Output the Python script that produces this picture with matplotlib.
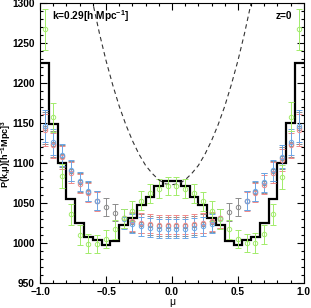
import matplotlib
matplotlib.use("Agg")
import matplotlib.pyplot as plt
import numpy as np
from matplotlib.ticker import MultipleLocator

nan = np.nan

# 30 mu-bins on [-1, 1]
mu_edges = np.linspace(-1.0, 1.0, 31)

# black histogram (simulation measurement)
hist_vals = [1225, 1149, 1100, 1055, 1025, 1008, 1004, 997, 1003, 1022,
             1031, 1047, 1057, 1071, 1078, 1078, 1071, 1057, 1047, 1031,
             1022, 1003, 997, 1004, 1008, 1025, 1055, 1100, 1150, 1225]

# coloured points with error bars
gray_vals = [1144, 1124, 1109, 1090, 1076, 1064, 1053, 1045, 1038, 1031,
             1026, 1024, 1022, 1021, 1021, 1021, 1021, 1022, 1024, 1026,
             1031, 1039, 1045, 1053, 1064, 1075, 1090, 1106, 1124, 1144]
red_vals = [1141, 1122, 1107, 1088, 1074, 1063, 1052, nan, nan, 1031,
            1027, 1025, 1024, 1023, 1023, 1023, 1023, 1024, 1025, 1027,
            1031, nan, nan, 1052, 1063, 1073, 1088, 1104, 1122, 1141]
blue_vals = [1146, 1126, 1110, 1091, 1077, 1065, 1053, nan, nan, 1030,
             1024, 1021, 1019, 1018, 1018, 1018, 1018, 1019, 1021, 1024,
             1030, nan, nan, 1053, 1065, 1076, 1091, 1108, 1126, 1146]
rb_err = [20, 16, 14, 13, 12, 12, 12, 11, 11, 12,
          12, 12, 12, 12, 12, 12, 12, 12, 12, 12,
          12, 11, 11, 12, 12, 12, 13, 14, 16, 20]

green_vals = [1267, 1157, 1084, 1036, 1010, 999, 999, 1005, 1017, 1031,
              1040, 1053, 1062, 1068, 1071, 1071, 1068, 1062, 1052, 1040,
              1030, 1017, 1005, 1000, 1000, 1011, 1036, 1083, 1158, 1267]
green_err = [26, 18, 15, 13, 12, 12, 11, 11, 12, 12,
             12, 12, 12, 12, 11, 11, 12, 12, 12, 12,
             12, 12, 11, 11, 12, 12, 13, 15, 18, 26]

# dashed theory curve
curve_mu = [-0.62, -0.6, -0.55, -0.5, -0.45, -0.4, -0.35, -0.3, -0.25, -0.2,
            -0.15, -0.1, -0.05, 0.0, 0.05, 0.1, 0.15, 0.2, 0.25, 0.3,
            0.35, 0.4, 0.45, 0.5, 0.55, 0.6, 0.62]
curve_p = [1315, 1300, 1262, 1228, 1198, 1171, 1148, 1128, 1111, 1097,
           1087, 1079, 1074, 1073, 1074, 1079, 1087, 1097, 1111, 1128,
           1148, 1171, 1198, 1228, 1262, 1300, 1315]

plt.rcParams["font.family"] = ["Liberation Sans", "DejaVu Sans"]
plt.rcParams["font.weight"] = "bold"
plt.rcParams["mathtext.fontset"] = "custom"
plt.rcParams["mathtext.rm"] = "Liberation Sans:bold"
plt.rcParams["mathtext.it"] = "Liberation Sans:bold"
plt.rcParams["mathtext.bf"] = "Liberation Sans:bold"

fig = plt.figure(figsize=(3.11, 3.08), dpi=100)
ax = fig.add_axes([0.129, 0.081, 0.848, 0.909])

centers = 0.5 * (mu_edges[:-1] + mu_edges[1:])

eb = dict(fmt="o", ms=3.2, mfc="none", mew=0.7, elinewidth=0.7,
          capsize=2.0, capthick=0.7)
ax.errorbar(centers, gray_vals, yerr=rb_err, color="#8c8c8c", **eb)
ax.errorbar(centers, red_vals, yerr=rb_err, color="#f08a8a", **eb)
ax.errorbar(centers, blue_vals, yerr=rb_err, color="#6aa6e6", **eb)
ax.errorbar(centers, green_vals, yerr=green_err, color="#a2ec6a", **eb)

ax.stairs(hist_vals, mu_edges, color="black", lw=1.6, baseline=None)
ax.plot(curve_mu, curve_p, color="#333333", lw=0.8, ls=(0, (4, 3)))

ax.set_xlim(-1.0, 1.0)
ax.set_ylim(950, 1300)
ax.xaxis.set_major_locator(MultipleLocator(0.5))
ax.xaxis.set_minor_locator(MultipleLocator(0.1))
ax.yaxis.set_major_locator(MultipleLocator(50))
ax.yaxis.set_minor_locator(MultipleLocator(10))
ax.tick_params(which="both", direction="in", top=True, right=True,
               labelsize=7.3, width=0.8, pad=3)
ax.tick_params(axis="y", pad=4)
ax.tick_params(which="major", length=5)
ax.tick_params(which="minor", length=2.5)
ax.set_xticks([-1.0, -0.5, 0.0, 0.5, 1.0])
ax.set_xticklabels(["\u22121.0", "\u22120.5", "0.0", "0.5", "1.0"])
for s in ax.spines.values():
    s.set_linewidth(0.8)

ax.set_xlabel("\u03bc", fontsize=7.5, labelpad=0)
fig.text(6 / 311, 0.5, "P(k,\u03bc)[h$^{-1}$Mpc]$^{3}$", fontsize=6.6,
         rotation=90, ha="center", va="center")

ax.text(0.045, 0.955, "k=0.29[h Mpc$^{-1}$]", transform=ax.transAxes,
        fontsize=7.3, va="center", ha="left")
ax.text(0.955, 0.955, "z=0", transform=ax.transAxes,
        fontsize=7.3, va="center", ha="right")

fig.savefig("out.png", dpi=100)
